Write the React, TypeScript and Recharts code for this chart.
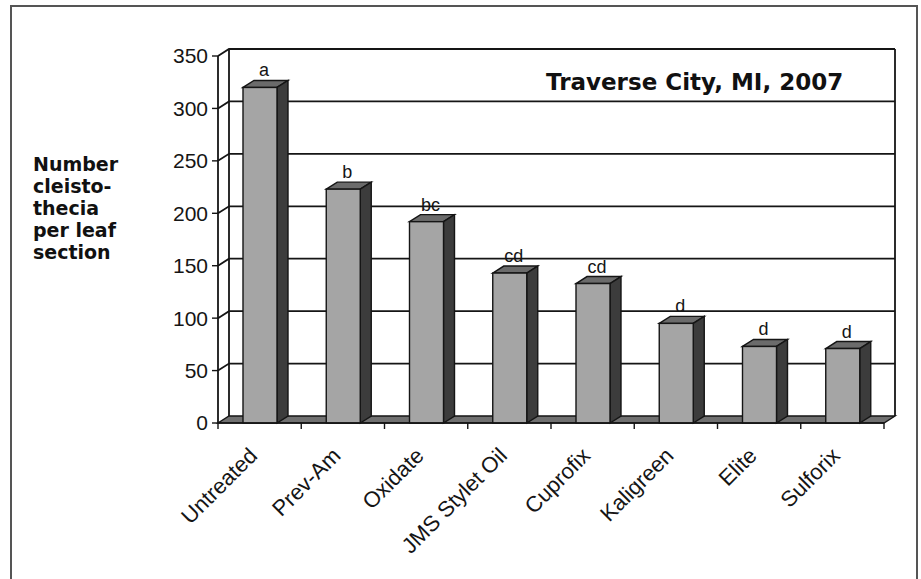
import React from 'react';
import { BarChart, Bar, XAxis, YAxis, CartesianGrid, LabelList } from 'recharts';

const treatments = ['Untreated', 'Prev-Am', 'Oxidate', 'JMS Stylet Oil', 'Cuprofix', 'Kaligreen', 'Elite', 'Sulforix'];
const cleistothecia = [320, 223, 192, 143, 133, 95, 73, 71];
const letters = ['a', 'b', 'bc', 'cd', 'cd', 'd', 'd', 'd'];
const yTicks = [0, 50, 100, 150, 200, 250, 300, 350];

const data = treatments.map((name, i) => ({ name, count: cleistothecia[i], letter: letters[i] }));

// 3D depth offset for bars and walls
const DX = 11;
const DY = -7;
const MARGIN_TOP = 56;
const PLOT_H = 367;
const PLOT_BOTTOM = MARGIN_TOP + PLOT_H;
const INK = '#151515';

const Bar3D = (props: any) => {
  const { x, y, width, height } = props;
  if (!height || height <= 0) return null;
  const top = `M${x},${y} L${x + DX},${y + DY} L${x + width + DX},${y + DY} L${x + width},${y} Z`;
  const side = `M${x + width},${y} L${x + width + DX},${y + DY} L${x + width + DX},${y + height + DY} L${x + width},${y + height} Z`;
  return (
    <g>
      <path d={top} fill="#6b6b6b" stroke={INK} strokeWidth={1.4} />
      <path d={side} fill="#3c3c3c" stroke={INK} strokeWidth={1.4} />
      <rect x={x} y={y} width={width} height={height} fill="#a5a5a5" stroke={INK} strokeWidth={1.4} />
    </g>
  );
};

const gridLine = (props: any) => {
  const { x1, y1, x2, index } = props;
  const k = `g-${index}-${y1}`;
  if (Math.abs(y1 - PLOT_BOTTOM) < 1) {
    // floor with category boundary ticks
    const n = treatments.length;
    const floor = `M${x1},${y1} L${x2},${y1} L${x2 + DX},${y1 + DY} L${x1 + DX},${y1 + DY} Z`;
    return (
      <g key={k}>
        <path d={floor} fill="#707070" stroke={INK} strokeWidth={1.4} />
        {Array.from({ length: n + 1 }).map((_, i) => {
          const tx = x1 + (i * (x2 - x1)) / n;
          return <line key={i} x1={tx} y1={y1} x2={tx} y2={y1 + 6} stroke={INK} strokeWidth={1.4} />;
        })}
      </g>
    );
  }
  const d = `M${x1},${y1} L${x1 + DX},${y1 + DY} L${x2 + DX},${y1 + DY}`;
  if (Math.abs(y1 - MARGIN_TOP) < 1) {
    return (
      <g key={k}>
        <path d={d} fill="none" stroke={INK} strokeWidth={1.8} />
        <line x1={x1 + DX} y1={y1 + DY} x2={x1 + DX} y2={PLOT_BOTTOM + DY} stroke={INK} strokeWidth={1.8} />
        <line x1={x2 + DX} y1={y1 + DY} x2={x2 + DX} y2={PLOT_BOTTOM + DY} stroke={INK} strokeWidth={1.8} />
      </g>
    );
  }
  return <path key={k} d={d} fill="none" stroke={INK} strokeWidth={1.8} />;
};

const XTick = (props: any) => {
  const { x, y, payload } = props;
  return (
    <g transform={`translate(${x - 1},${y + 26})`}>
      <text textAnchor="end" transform="rotate(-45)" fontSize={22} fontFamily="Liberation Sans, Arial, sans-serif" fill={INK}>
        {payload.value}
      </text>
    </g>
  );
};

const LetterLabel = (props: any) => {
  const { x, y, width, index } = props;
  return (
    <text x={x + width / 2 + 4} y={y - 11} textAnchor="middle" fontSize={18} fontFamily="Liberation Sans, Arial, sans-serif" fill={INK}>
      {letters[index]}
    </text>
  );
};

export default function App() {
  return (
    <div style={{ position: 'absolute', left: 0, top: 0, width: 921, height: 579, background: '#fff', overflow: 'hidden' }}>
      <div style={{ position: 'absolute', left: 10, top: 5, width: 904, height: 600, border: '2px solid #555' }} />
      <div style={{ position: 'absolute', left: 0, top: 0 }}>
        <BarChart width={921} height={579} data={data} margin={{ top: MARGIN_TOP, right: 37, bottom: 0, left: 0 }} barSize={34}>
          <CartesianGrid horizontal={gridLine} vertical={false} />
          <XAxis dataKey="name" height={156} interval={0} tickLine={false} axisLine={{ stroke: INK, strokeWidth: 1.4 }} tick={<XTick />} />
          <YAxis
            width={218}
            domain={[0, 350]}
            ticks={yTicks}
            interval={0}
            tickSize={6}
            tickMargin={4}
            axisLine={{ stroke: INK, strokeWidth: 1.8 }}
            tickLine={{ stroke: INK, strokeWidth: 1.4 }}
            tick={{ fontSize: 21, fill: INK, fontFamily: 'Liberation Sans, Arial, sans-serif' }}
          />
          <Bar dataKey="count" shape={Bar3D} isAnimationActive={false}>
            <LabelList dataKey="letter" content={LetterLabel} />
          </Bar>
        </BarChart>
      </div>
      <div style={{ position: 'absolute', left: 546, top: 71, fontFamily: 'DejaVu Sans', fontWeight: 'bold', fontSize: 23, lineHeight: '23px', color: '#111', whiteSpace: 'nowrap' }}>
        Traverse City, MI, 2007
      </div>
      <div style={{ position: 'absolute', left: 33, top: 153, fontFamily: 'DejaVu Sans', fontWeight: 'bold', fontSize: 19, lineHeight: '22px', color: '#111' }}>
        Number<br />cleisto-<br />thecia<br />per leaf<br />section
      </div>
    </div>
  );
}
